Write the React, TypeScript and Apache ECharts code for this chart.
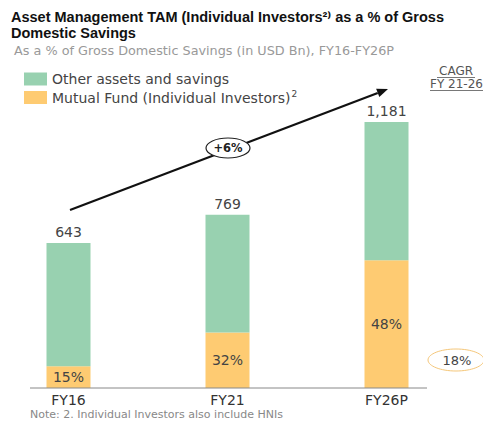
import React, { useEffect, useRef } from "react";
import * as echarts from "echarts";

const categories = ["FY16", "FY21", "FY26P"];
const totals = [643, 769, 1181];
const mfShare = [15, 32, 48];
const mutualFund = [96, 246, 567];
const otherAssets = [547, 523, 614];
const cagrValue = "18%";
const growthLabel = "+6%";

const FONT = "'DejaVu Sans', Roboto, Arial, sans-serif";
const TFONT = "'Liberation Sans', Roboto, 'DejaVu Sans', Arial, sans-serif";
const OX = 11; // chart canvas is shifted left by OX px on the page

export default function App() {
  const ref = useRef<HTMLDivElement>(null);
  useEffect(() => {
    if (!ref.current) return;
    const chart = echarts.init(ref.current, undefined, { renderer: "svg" });
    const X = (x: number) => x + OX;
    // arrow geometry
    const sx = X(70), sy = 210, tx = X(388), ty = 89;
    const dx = tx - sx, dy = ty - sy;
    const len = Math.sqrt(dx * dx + dy * dy);
    const ux = dx / len, uy = dy / len;
    const bx = tx - 11 * ux, by = ty - 11 * uy;
    const px = -uy, py = ux;
    chart.setOption({
      animation: false,
      textStyle: { fontFamily: FONT },
      grid: { left: 0, right: 17, top: 117.6, bottom: 33 },
      legend: {
        orient: "vertical",
        left: X(19),
        top: 67,
        itemWidth: 23,
        itemHeight: 13,
        itemGap: 3,
        icon: "rect",
        data: ["Other assets and savings", "Mutual Fund (Individual Investors)"],
        formatter: (name: string) =>
          name.startsWith("Mutual") ? name + "{sup|2}" : name,
        textStyle: {
          fontSize: 14,
          color: "#444",
          fontFamily: FONT,
          rich: { sup: { fontSize: 9, fontFamily: FONT, verticalAlign: "top", padding: [0, 0, 8, 1], color: "#444" } },
        },
      },
      xAxis: {
        type: "category",
        data: categories,
        axisLine: { show: false },
        axisTick: { show: false },
        axisLabel: { fontSize: 14, color: "#333", margin: 5, fontFamily: FONT },
      },
      yAxis: { type: "value", min: 0, max: 1200, show: false, splitLine: { show: false } },
      series: [
        {
          name: "Mutual Fund (Individual Investors)",
          type: "bar",
          stack: "t",
          data: mutualFund,
          barWidth: 44,
          itemStyle: { color: "#FECB72" },
          label: {
            show: true,
            position: "inside",
            fontSize: 14,
            color: "#444",
            fontFamily: FONT,
            formatter: (p: any) => mfShare[p.dataIndex] + "%",
          },
        },
        {
          name: "Other assets and savings",
          type: "bar",
          stack: "t",
          data: otherAssets,
          barWidth: 44,
          itemStyle: { color: "#98D1B0" },
          label: {
            show: true,
            position: "top",
            distance: 4,
            fontSize: 14,
            color: "#444",
            fontFamily: FONT,
            formatter: (p: any) => totals[p.dataIndex].toLocaleString("en-US"),
          },
        },
      ],
      graphic: [
        {
          type: "text",
          x: X(11),
          y: 16.5,
          style: {
            text: "Asset Management TAM (Individual Investors²⁾ as a % of Gross",
            font: `bold 14.5px ${TFONT}`,
            fill: "#111",
            verticalAlign: "middle",
          },
        },
        {
          type: "text",
          x: X(11),
          y: 33,
          style: {
            text: "Domestic Savings",
            font: `bold 14.5px ${TFONT}`,
            fill: "#111",
            verticalAlign: "middle",
          },
        },
        {
          type: "text",
          x: X(14),
          y: 50,
          style: {
            text: "As a % of Gross Domestic Savings (in USD Bn), FY16-FY26P",
            font: `12.8px ${FONT}`,
            fill: "#999",
            verticalAlign: "middle",
          },
        },
        {
          type: "text",
          x: X(456),
          y: 71,
          style: { text: "CAGR", font: `12px ${FONT}`, fill: "#555", align: "center", verticalAlign: "middle" },
        },
        { type: "line", shape: { x1: X(437), y1: 77.5, x2: X(475), y2: 77.5 }, style: { stroke: "#555", lineWidth: 0.8 } },
        {
          type: "text",
          x: X(430),
          y: 84,
          style: { text: "FY 21-26", font: `12px ${FONT}`, fill: "#555", align: "left", verticalAlign: "middle" },
        },
        { type: "line", shape: { x1: X(430), y1: 90.5, x2: X(483), y2: 90.5 }, style: { stroke: "#555", lineWidth: 0.8 } },
        // arrow
        { type: "line", shape: { x1: sx, y1: sy, x2: bx, y2: by }, style: { stroke: "#111", lineWidth: 2.2 } },
        {
          type: "polygon",
          shape: { points: [[tx, ty], [bx + 4.5 * px, by + 4.5 * py], [bx - 4.5 * px, by - 4.5 * py]] },
          style: { fill: "#111" },
        },
        {
          type: "ellipse",
          shape: { cx: X(228), cy: 148, rx: 22, ry: 10 },
          style: { fill: "#fff", stroke: "#222", lineWidth: 1.2 },
        },
        {
          type: "text",
          x: X(228),
          y: 148,
          style: { text: growthLabel, font: `bold 11.5px ${FONT}`, fill: "#222", align: "center", verticalAlign: "middle" },
        },
        // CAGR ellipse
        {
          type: "ellipse",
          shape: { cx: X(456), cy: 360, rx: 28, ry: 11 },
          style: { fill: "#fff", stroke: "#F5C77A", lineWidth: 1 },
        },
        {
          type: "text",
          x: X(457),
          y: 360,
          style: { text: cagrValue, font: `13px ${FONT}`, fill: "#444", align: "center", verticalAlign: "middle" },
        },
        // baseline
        { type: "line", shape: { x1: X(30), y1: 388, x2: X(427), y2: 388 }, style: { stroke: "#888", lineWidth: 1 }, z: 100 },
        {
          type: "text",
          left: X(30),
          top: 409,
          style: { text: "Note: 2. Individual Investors also include HNIs", font: `11px ${FONT}`, fill: "#888" },
        },
      ],
    });
    return () => chart.dispose();
  }, []);
  return (
    <div
      ref={ref}
      style={{ position: "fixed", left: -OX, top: 0, width: 483 + OX, height: 421, background: "#fff" }}
    />
  );
}
